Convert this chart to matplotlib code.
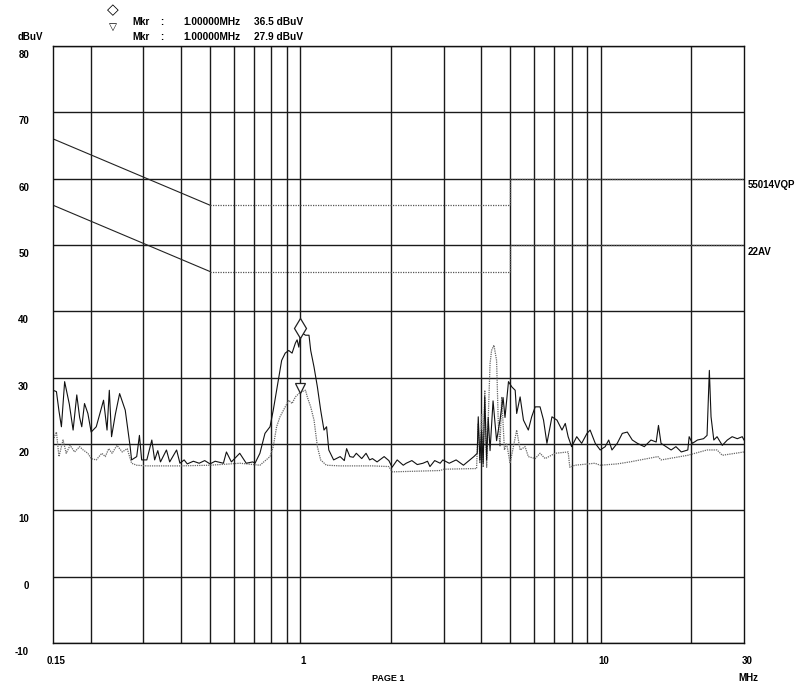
import numpy as np
import matplotlib.pyplot as plt
from matplotlib import transforms

plt.rcParams['font.family'] = ['Liberation Sans', 'DejaVu Sans']
plt.rcParams['font.weight'] = 'bold'

# limit lines (MHz, dBuV)
lim_f = [0.15, 0.5, 5.0, 5.0, 30.0]
qp_lim = [66, 56, 56, 60, 60]
av_lim = [56, 46, 46, 50, 50]

# quasi-peak trace
qp_f = [0.150, 0.154, 0.157, 0.160, 0.164, 0.170, 0.175, 0.180, 0.184, 0.187,
        0.191, 0.196, 0.201, 0.209, 0.221, 0.227, 0.231, 0.235, 0.242, 0.250,
        0.261, 0.271, 0.274, 0.285, 0.291, 0.296, 0.308, 0.320, 0.327, 0.335,
        0.342, 0.358, 0.367, 0.387, 0.397, 0.41, 0.42, 0.44, 0.46, 0.48,
        0.50, 0.52, 0.554, 0.567, 0.589, 0.628, 0.66, 0.694, 0.706, 0.733,
        0.762, 0.792, 0.812, 0.833, 0.866, 0.890, 0.914, 0.938, 0.962, 0.975,
        0.988, 1.000, 1.014, 1.040, 1.068, 1.082, 1.110, 1.139, 1.168, 1.198,
        1.222, 1.243, 1.290, 1.356, 1.40, 1.425, 1.461, 1.50, 1.535, 1.60,
        1.654, 1.70, 1.737, 1.80, 1.90, 1.97, 2.02, 2.10, 2.20, 2.25,
        2.35, 2.45, 2.56, 2.65, 2.70, 2.80, 2.92, 2.98, 3.13, 3.30,
        3.49, 3.78, 3.88, 3.91, 3.96, 4.01, 4.06, 4.11, 4.17, 4.22,
        4.28, 4.38, 4.50, 4.62, 4.73, 4.80, 4.93, 5.06, 5.19, 5.25,
        5.39, 5.53, 5.74, 5.89, 6.05, 6.28, 6.45, 6.62, 6.88, 7.15,
        7.43, 7.62, 7.79, 8.0, 8.32, 8.64, 9.0, 9.22, 9.59, 9.96,
        10.35, 10.63, 10.9, 11.35, 11.8, 12.26, 12.74, 13.25, 13.97, 14.7,
        15.3, 15.57, 15.88, 16.5, 17.16, 17.8, 18.55, 19.5, 19.7, 20.2,
        21.0, 22.0, 22.6, 23.0, 23.3, 23.8, 24.4, 25.4, 26.4, 27.4,
        28.5, 29.6, 30.0]
qp_db = [28.1, 27.9, 25.0, 22.6, 29.4, 26.0, 22.1, 27.4, 24.0, 22.6,
         26.1, 24.6, 21.8, 22.6, 26.6, 22.1, 28.1, 21.1, 24.5, 27.6,
         25.1, 19.6, 17.6, 18.1, 21.3, 17.6, 17.6, 20.6, 17.6, 19.0,
         17.3, 19.1, 17.3, 19.1, 17.1, 17.6, 17.0, 17.4, 17.1, 17.5,
         17.0, 17.4, 17.1, 18.8, 17.3, 18.6, 17.1, 17.3, 17.1, 18.6,
         21.6, 22.6, 25.1, 28.1, 32.6, 33.7, 34.1, 33.7, 35.2, 35.7,
         34.6, 36.5, 36.7, 36.4, 36.4, 34.1, 31.6, 28.6, 25.1, 22.1,
         22.6, 19.1, 17.6, 18.1, 17.5, 19.3, 18.1, 18.0, 18.6, 17.8,
         18.6, 17.6, 17.8, 17.3, 18.1, 17.5, 16.5, 17.6, 16.8, 17.1,
         17.5, 16.9, 17.1, 17.4, 16.6, 17.5, 17.1, 17.6, 17.1, 17.6,
         16.8, 18.1, 18.6, 24.1, 17.6, 22.0, 17.1, 27.1, 17.6, 24.0,
         19.0, 26.5, 20.5, 23.6, 27.0, 24.0, 29.4, 28.6, 28.1, 24.6,
         27.1, 23.6, 22.1, 24.1, 25.6, 25.6, 23.6, 20.1, 24.1, 23.6,
         22.1, 23.1, 21.1, 19.6, 21.1, 20.1, 21.6, 22.1, 20.1, 19.1,
         19.6, 20.6, 19.1, 20.1, 21.6, 21.8, 20.6, 20.1, 19.6, 20.6,
         20.3, 22.8, 20.1, 19.6, 19.1, 19.6, 18.8, 19.1, 21.1, 20.1,
         20.6, 20.8, 21.3, 31.1, 24.1, 20.6, 21.1, 19.8, 20.6, 21.1,
         20.8, 21.1, 20.6]

# average trace
av_f = [0.150, 0.154, 0.157, 0.162, 0.166, 0.171, 0.177, 0.184, 0.189, 0.196,
        0.201, 0.209, 0.218, 0.224, 0.230, 0.236, 0.245, 0.255, 0.265, 0.274,
        0.285, 0.308, 0.40, 0.50, 0.629, 0.733, 0.792, 0.812, 0.833, 0.855,
        0.890, 0.914, 0.938, 0.962, 0.988, 1.014, 1.040, 1.054, 1.082, 1.110,
        1.139, 1.168, 1.22, 1.356, 1.737, 1.97, 2.02, 2.92, 3.0, 3.86,
        3.91, 3.96, 4.01, 4.06, 4.11, 4.17, 4.28, 4.33, 4.41, 4.50,
        4.56, 4.62, 4.68, 4.78, 4.86, 4.99, 5.12, 5.25, 5.39, 5.60,
        5.74, 6.05, 6.28, 6.53, 7.05, 7.79, 7.89, 8.21, 9.56, 9.96,
        11.35, 12.5, 15.5, 15.9, 19.5, 22.6, 24.4, 25.4, 30.0]
av_db = [20.6, 21.8, 18.1, 20.6, 18.6, 19.8, 18.8, 19.6, 19.1, 18.6,
         17.8, 17.6, 18.6, 18.1, 19.3, 18.6, 19.8, 18.8, 19.3, 17.1,
         16.8, 16.7, 16.7, 16.8, 17.1, 16.8, 18.1, 19.6, 22.6, 24.1,
         25.6, 26.6, 26.1, 27.1, 27.6, 27.9, 28.1, 27.1, 25.6, 23.6,
         19.6, 17.6, 16.8, 16.7, 16.7, 16.6, 15.8, 16.0, 16.2, 16.3,
         23.1, 17.1, 24.6, 16.5, 28.1, 16.5, 32.1, 34.1, 34.9, 32.6,
         23.1, 19.6, 27.1, 19.1, 20.1, 17.1, 19.6, 22.1, 19.1, 19.6,
         18.1, 17.8, 18.6, 17.8, 18.6, 18.8, 16.5, 16.8, 17.1, 16.8,
         17.0, 17.3, 18.1, 17.6, 18.3, 19.1, 19.1, 18.3, 18.8]

mkr_f = 1.0
mkr_qp = 36.5
mkr_av = 27.9

y_ticks = [80, 70, 60, 50, 40, 30, 20, 10, 0, -10]
x_labels = {0.15: '0.15', 1: '1', 10: '10', 30: '30'}
grid_f = [0.2, 0.3, 0.4, 0.5, 0.6, 0.7, 0.8, 0.9, 1, 2, 3, 4, 5, 6, 7, 8, 9, 10, 20]

fig = plt.figure(figsize=(7.99, 6.84), dpi=100)
W, H = 799, 684
ax = fig.add_axes([53 / W, 41 / H, 691 / W, 597 / H])
ax.set_xscale('log')
ax.set_xlim(0.15, 30)
ax.set_ylim(-10, 80)

ax.set_xticks(grid_f)
ax.set_xticks([], minor=True)
ax.set_yticks(y_ticks)
ax.tick_params(length=0, labelbottom=False, labelleft=False, which='both')
ax.grid(True, color='#1a1a1a', lw=1.0)
for s in ax.spines.values():
    s.set_color('#111111')
    s.set_linewidth(1.0)

# limits: sloped part solid, flat parts dotted
ax.plot(lim_f[:2], qp_lim[:2], color='#222222', lw=0.8)
ax.plot(lim_f[1:], qp_lim[1:], color='#555555', lw=0.9, ls=(0, (1, 1)))
ax.plot(lim_f[:2], av_lim[:2], color='#222222', lw=0.8)
ax.plot(lim_f[1:], av_lim[1:], color='#555555', lw=0.9, ls=(0, (1, 1)))

ax.plot(av_f, av_db, color='#666666', lw=0.9, ls=(0, (1, 0.8)))
ax.plot(qp_f, qp_db, color='#111111', lw=0.8)

# markers sit just above the trace points
up = transforms.ScaledTranslation(0, 6.5 / 100, fig.dpi_scale_trans)
ax.plot([mkr_f], [mkr_qp], marker='d', ms=10, mfc='white', mec='#222222', mew=0.9,
        transform=ax.transData + up, clip_on=False)
up2 = transforms.ScaledTranslation(0, 3.5 / 100, fig.dpi_scale_trans)
ax.plot([mkr_f], [mkr_av], marker='v', ms=7, mfc='white', mec='#222222', mew=0.9,
        transform=ax.transData + up2, clip_on=False)

# y labels, right aligned and a little below each gridline
ytr = transforms.blended_transform_factory(ax.transAxes, ax.transData)
for v in y_ticks:
    ax.annotate(str(v), xy=(0, v), xycoords=ytr, xytext=(-24, -4),
                textcoords='offset pixels', ha='right', va='top', fontsize=7)
xtr = transforms.blended_transform_factory(ax.transData, ax.transAxes)
for f, lab in x_labels.items():
    ax.annotate(lab, xy=(f, 0), xycoords=xtr, xytext=(3, -13),
                textcoords='offset pixels', ha='center', va='top', fontsize=7)
ax.annotate('MHz', xy=(30, 0), xycoords=xtr, xytext=(4, -30),
            textcoords='offset pixels', ha='center', va='top', fontsize=7)

ax.annotate('55014VQP', xy=(1, qp_lim[-1]), xycoords=ytr, xytext=(4, -6),
            textcoords='offset pixels', ha='left', va='center', fontsize=7)
ax.annotate('22AV', xy=(1, av_lim[-1]), xycoords=ytr, xytext=(4, -7),
            textcoords='offset pixels', ha='left', va='center', fontsize=7)

# header
def px(x, y):
    return x / W, 1 - y / H

fig.text(*px(18, 37), 'dBuV', fontsize=7, va='center')
fig.text(*px(113, 10), '\u25c7', fontsize=11, ha='center', va='center',
         family='DejaVu Sans', fontweight='normal')
fig.text(*px(113, 27), '\u25bd', fontsize=7.5, ha='center', va='center',
         family='DejaVu Sans', fontweight='normal')
rows = [(22, mkr_qp), (37, mkr_av)]
for yy, val in rows:
    fig.text(*px(132, yy), 'Mkr', fontsize=7, va='center')
    fig.text(*px(160, yy), ':', fontsize=7, va='center')
    fig.text(*px(183, yy), '%.5fMHz' % mkr_f, fontsize=7.3, va='center')
    fig.text(*px(254, yy), '%.1f dBuV' % val, fontsize=7.3, va='center')

# page footer at the lower edge
fig.text(*px(388, 683), 'PAGE 1', fontsize=6.5, ha='center', va='bottom')

fig.savefig('out.png', dpi=100, facecolor='white')
